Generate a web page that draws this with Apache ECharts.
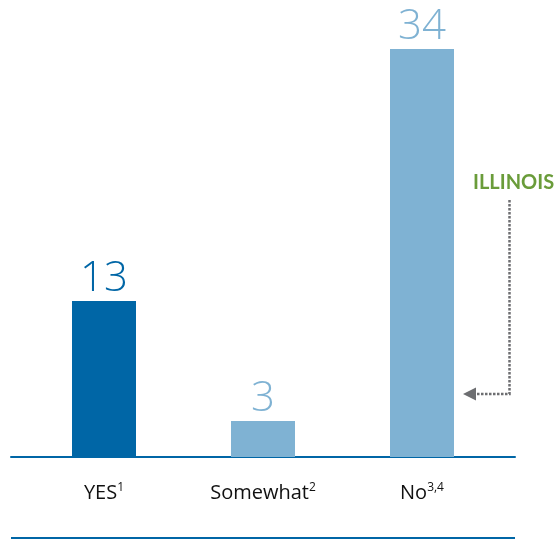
<!DOCTYPE html>
<html>
<head>
<meta charset="utf-8">
<script src="https://cdn.jsdelivr.net/npm/echarts@6/dist/echarts.min.js"></script>
<style>
html,body{margin:0;padding:0;background:#fff;}
#c{width:557px;height:540px;}
</style>
</head>
<body>
<div id="c"></div>
<script>
const categories = ['YES', 'Somewhat', 'No'];
const footnotes = ['1', '2', '3,4'];
const values = [13, 3, 34];
const barColors = ['#0066a6', '#7fb2d3', '#7fb2d3'];
const annotationText = 'ILLINOIS';

const chart = echarts.init(document.getElementById('c'));
const catLabels = categories.map((c, i) => c + '|' + footnotes[i]);

chart.setOption({
  animation: false,
  backgroundColor: '#ffffff',
  grid: [
    {left: 24.5, right: 55.5, top: 49, bottom: 83},
    {left: 11, right: 42, top: 49, bottom: 83}
  ],
  xAxis: [
    {
      type: 'category', gridIndex: 0, data: catLabels,
      axisLine: {show: false}, axisTick: {show: false},
      axisLabel: {
        margin: 25,
        formatter: v => { const p = v.split('|'); return '{m|' + p[0] + '}{s|' + p[1] + '}'; },
        rich: {
          m: {fontFamily: 'Open Sans', fontSize: 20, color: '#111111', lineHeight: 22},
          s: {fontFamily: 'Open Sans', fontSize: 12, color: '#111111', lineHeight: 22, verticalAlign: 'top', padding: [0,0,0,0]}
        }
      }
    },
    {
      type: 'value', gridIndex: 1, min: 0, max: 1,
      axisLine: {show: true, onZero: false, lineStyle: {color: '#0066a6', width: 2}},
      axisTick: {show: false}, axisLabel: {show: false}, splitLine: {show: false}
    }
  ],
  yAxis: [
    {type: 'value', gridIndex: 0, min: 0, max: 34, show: false, splitLine: {show: false}},
    {type: 'value', gridIndex: 1, min: 0, max: 34, show: false, splitLine: {show: false}}
  ],
  series: [{
    type: 'bar',
    xAxisIndex: 0, yAxisIndex: 0,
    barWidth: 64,
    data: values.map((v, i) => ({
      value: v,
      itemStyle: {color: barColors[i]},
      label: {color: barColors[i]}
    })),
    label: {
      show: true, position: 'top', distance: 1,
      fontFamily: 'Open Sans', fontWeight: 300, fontSize: 42
    }
  }],
  graphic: [
    {type: 'line', shape: {x1: 11, y1: 538, x2: 515, y2: 538},
     style: {stroke: '#0066a6', lineWidth: 2}},
    {type: 'text', x: 473, y: 183,
     style: {text: annotationText, fill: '#6a9c3a', font: 'bold 20px Lato',
             textAlign: 'left', textVerticalAlign: 'middle'}},
    {type: 'polyline', shape: {points: [[509.5, 200], [509.5, 394], [474, 394]]},
     style: {stroke: '#6d6e71', lineWidth: 2.5, lineDash: [2.5, 1.5], fill: null}},
    {type: 'polygon', shape: {points: [[463, 394], [476, 387.5], [476, 400.5]]},
     style: {fill: '#6d6e71'}}
  ]
});
</script>
</body>
</html>
